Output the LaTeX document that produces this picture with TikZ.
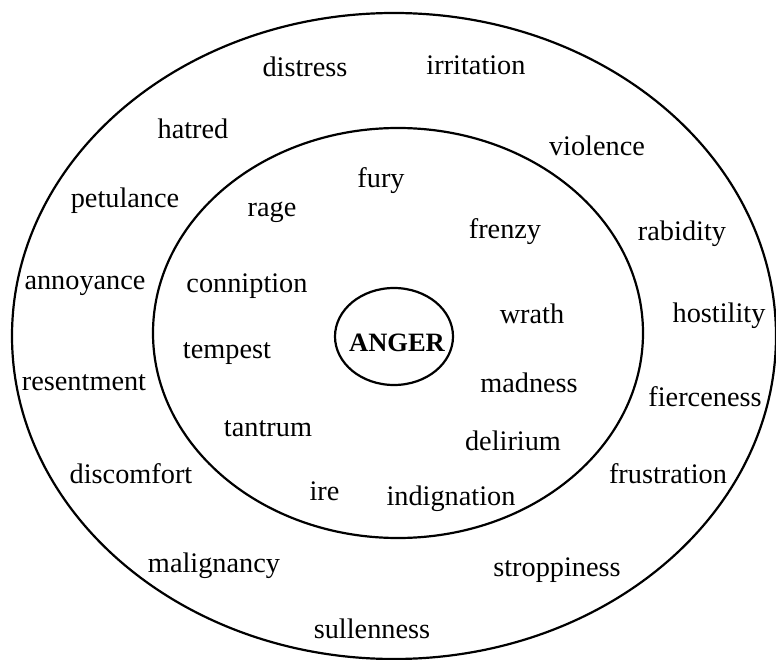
\documentclass[tikz,border=0pt]{standalone}
\usepackage{fontspec}
\setmainfont{Liberation Serif}
\usetikzlibrary{shapes.geometric}
\begin{document}
\begin{tikzpicture}[x=1pt,y=-1pt,
  ring/.style={line width=2.2pt},
  word/.style={anchor=base,inner sep=0pt,font=\fontsize{28.3}{34}\selectfont},
  core/.style={ellipse,draw,line width=2.2pt,inner sep=0pt,minimum width=118pt,minimum height=97pt},
  corelabel/.style={anchor=base,inner sep=0pt,font=\fontsize{26.5}{32}\selectfont\bfseries}]
\useasboundingbox (0,0) rectangle (776,660);
% rings
\draw[ring] (394,336) ellipse [x radius=382, y radius=323];
\draw[ring] (398,333) ellipse [x radius=245, y radius=205];
% centre
\node[core] (anger) at (394,336.5) {};
\node[corelabel] (angerlabel) at (397,351) {ANGER};
% outer ring words
\node[word] (distress) at (305,77) {distress};
\node[word] (irritation) at (476,75) {irritation};
\node[word] (hatred) at (193,139) {hatred};
\node[word] (violence) at (597,156) {violence};
\node[word] (petulance) at (125,208) {petulance};
\node[word] (rabidity) at (682,241) {rabidity};
\node[word] (annoyance) at (85,289) {annoyance};
\node[word] (hostility) at (719,322) {hostility};
\node[word] (resentment) at (84,390) {resentment};
\node[word] (fierceness) at (705,406) {fierceness};
\node[word] (discomfort) at (131,483) {discomfort};
\node[word] (frustration) at (668,483) {frustration};
\node[word] (malignancy) at (214,572) {malignancy};
\node[word] (stroppiness) at (557,576) {stroppiness};
\node[word] (sullenness) at (372,638) {sullenness};
% inner ring words
\node[word] (fury) at (381,188) {fury};
\node[word] (rage) at (272,217) {rage};
\node[word] (frenzy) at (505,239) {frenzy};
\node[word] (conniption) at (247,293) {conniption};
\node[word] (wrath) at (532,323) {wrath};
\node[word] (tempest) at (227,358) {tempest};
\node[word] (madness) at (529,392) {madness};
\node[word] (tantrum) at (268,436) {tantrum};
\node[word] (delirium) at (513,450) {delirium};
\node[word] (ire) at (324.5,500) {ire};
\node[word] (indignation) at (451,505) {indignation};
\end{tikzpicture}
\end{document}
